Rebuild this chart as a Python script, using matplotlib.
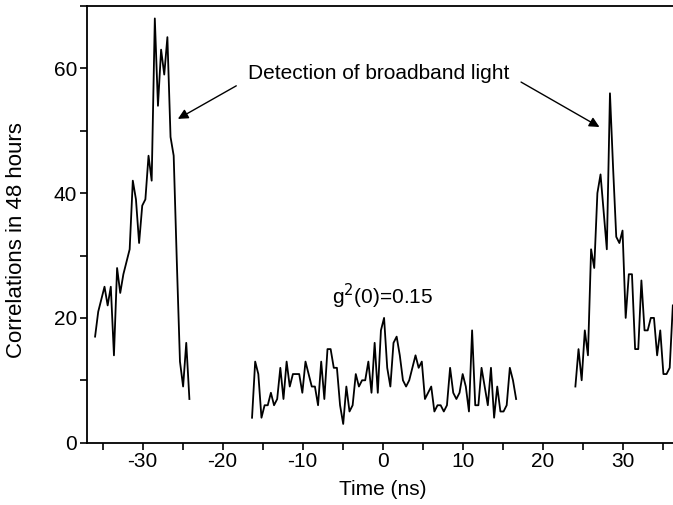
import numpy as np
import matplotlib
matplotlib.use("Agg")
import matplotlib.pyplot as plt
from matplotlib.ticker import MultipleLocator

plt.rcParams["font.family"] = ["Liberation Sans", "DejaVu Sans"]
plt.rcParams["axes.unicode_minus"] = False

# time bin of the correlator (ns) and start time of each recorded window
bin_ns = 0.393
start_left = -35.95
start_mid = -16.33
start_right = 24.09

# coincidence counts
counts_left = [17, 21, 23, 25, 22, 25, 14, 28, 24, 27, 29, 31, 42, 39, 32, 38,
               39, 46, 42, 68, 54, 63, 59, 65, 49, 46, 29, 13, 9, 16, 7]
counts_mid = [4, 13, 11, 4, 6, 6, 8, 6, 7, 12,
              7, 13, 9, 11, 11, 11, 8, 13, 11, 9,
              9, 6, 13, 7, 15, 15, 12, 12, 6, 3,
              9, 5, 6, 11, 9, 10, 10, 13, 8, 16,
              8, 18, 20, 12, 9, 16, 17, 14, 10, 9,
              10, 12, 14, 12, 13, 7, 8, 9, 5, 6,
              6, 5, 6, 12, 8, 7, 8, 11, 9, 5,
              18, 6, 6, 12, 9, 6, 12, 4, 9, 5,
              5, 6, 12, 10, 7]
counts_right = [9, 15, 10, 18, 14, 31, 28, 40, 43, 37, 31, 56, 44, 33, 32, 34,
                20, 27, 27, 15, 15, 26, 18, 18, 20, 20, 14, 18, 11, 11, 12, 22]

x_ticks = [-30, -20, -10, 0, 10, 20, 30]
y_ticks = [0, 20, 40, 60]

fig = plt.figure(figsize=(6.73, 5.05), dpi=100)
ax = fig.add_axes([0.1288, 0.1234, 0.8796, 0.8648])

for start, counts in [(start_left, counts_left),
                      (start_mid, counts_mid),
                      (start_right, counts_right)]:
    t = start + bin_ns * np.arange(len(counts))
    ax.plot(t, counts, color="black", lw=1.3)

ax.set_xlim(-37, 37)
ax.set_ylim(0, 70)
ax.set_xticks(x_ticks)
ax.set_yticks(y_ticks)
ax.xaxis.set_minor_locator(MultipleLocator(5))
ax.yaxis.set_minor_locator(MultipleLocator(10))
ax.tick_params(which="both", direction="out", width=1.2, labelsize=15, pad=2)
ax.tick_params(which="major", length=5)
ax.tick_params(which="minor", length=5)
for s in ax.spines.values():
    s.set_linewidth(1.3)

ax.set_xlabel("Time (ns)", fontsize=15, labelpad=6)
ax.set_ylabel("Correlations in 48 hours", fontsize=16)
ax.yaxis.set_label_coords(-0.1, 0.465)

ax.text(0, 23.5, r"g$^2$(0)=0.15", ha="center", va="center", fontsize=15)

arrow = dict(arrowstyle="-|>", color="black", lw=1.0, mutation_scale=15,
             shrinkA=0, shrinkB=0)
ax.annotate("Detection of broadband light", xy=(-25.6, 51.9), xytext=(-0.5, 59.1),
            ha="center", va="center", fontsize=15)
ax.annotate("", xy=(-25.6, 51.9), xytext=(-18.3, 57.2), arrowprops=arrow)
ax.annotate("", xy=(27.1, 50.6), xytext=(17.3, 57.8), arrowprops=arrow)

fig.savefig("out.png", dpi=100)
